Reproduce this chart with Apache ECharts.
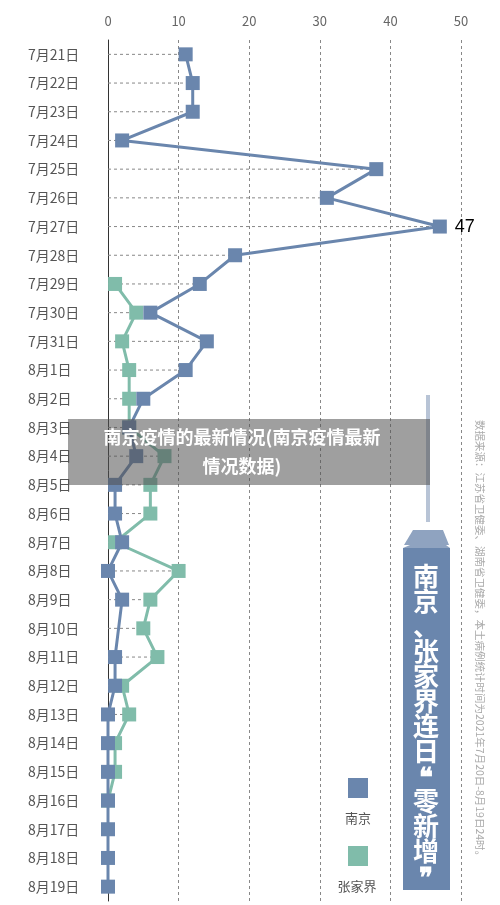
<!DOCTYPE html><html><head><meta charset="utf-8"><script src="https://cdn.jsdelivr.net/npm/echarts@6/dist/echarts.min.js"></script>
<style>body{margin:0;background:#fff}#c{width:500px;height:905px}</style></head><body><div id="c"></div><script>
const categories=['7月21日','7月22日','7月23日','7月24日','7月25日','7月26日','7月27日','7月28日','7月29日','7月30日','7月31日','8月1日','8月2日','8月3日','8月4日','8月5日','8月6日','8月7日','8月8日','8月9日','8月10日','8月11日','8月12日','8月13日','8月14日','8月15日','8月16日','8月17日','8月18日','8月19日'];
const nanjing=[11,12,12,2,38,31,47,18,13,6,14,11,5,3,4,1,1,2,0,2,null,1,1,0,0,0,0,0,0,0];
const zhangjiajie=[null,null,null,null,null,null,null,null,1,4,2,3,3,3,8,6,6,1,10,6,5,7,2,3,1,1,0,null,null,null];
const xTicks=[0,10,20,30,40,50];
const F='"Noto Sans CJK SC",sans-serif';
const guide=categories.map((c,i)=>[i,Math.max(nanjing[i]??0,zhangjiajie[i]??0)]);
const chart=echarts.init(document.getElementById('c'));
const blue='#6a86ad',green='#80bcaa';
chart.setOption({
 animation:false,
 grid:{left:108,right:39,top:40,bottom:4},
 xAxis:{type:'value',position:'top',min:xTicks[0],max:xTicks[xTicks.length-1],interval:10,
  axisLine:{show:false},axisTick:{show:false},
  axisLabel:{color:'#666',fontSize:13,fontFamily:F,margin:12},
  splitLine:{show:true,lineStyle:{type:[3,3],color:'#888',width:1}}},
 yAxis:{type:'category',data:categories,inverse:true,
  axisLine:{show:true,lineStyle:{color:'#333',width:1}},axisTick:{show:false},
  axisLabel:{color:'#555',fontSize:14,fontFamily:F,align:'left',margin:80}},
 series:[
  {type:'custom',data:guide,silent:true,z:1,renderItem:(p,api)=>{
    const a=api.coord([0,api.value(0)]),b=api.coord([api.value(1),api.value(0)]);
    return {type:'line',shape:{x1:a[0],y1:a[1],x2:b[0],y2:b[1]},style:{stroke:'#888',lineWidth:1,lineDash:[3,3]}};
  },encode:{x:1,y:0}},
  {name:'张家界',type:'line',data:zhangjiajie,symbol:'rect',symbolSize:14,lineStyle:{color:green,width:3},itemStyle:{color:green},z:3},
  {name:'南京',type:'line',data:nanjing,connectNulls:true,symbol:'rect',symbolSize:14,lineStyle:{color:blue,width:3},itemStyle:{color:blue},z:4,
   label:{show:true,position:'right',distance:8,color:'#000',fontSize:18,fontFamily:'Liberation Sans',formatter:p=>p.value===47?'47':''}}
 ],
 graphic:[
  {type:'rect',shape:{x:426,y:395,width:4,height:127},style:{fill:'#b8c4d6'},z:10},
  {type:'polygon',shape:{points:[[410,545],[446,545],[450,548],[403,548]]},style:{fill:'#8fa3c0'},z:10},
  {type:'polygon',shape:{points:[[413,530],[443,530],[449,545],[404,545]]},style:{fill:'#8fa3c0'},z:10},
  {type:'rect',shape:{x:403,y:548,width:47,height:342},style:{fill:blue},z:10},
  {type:'text',x:426,y:564,z:11,style:{text:'南\n京\n、\n张\n家\n界\n连\n日\n❝\n零\n新\n增\n❞',fill:'#fff',font:'bold 26px '+F,lineHeight:25,align:'center',verticalAlign:'top'}},
  {type:'text',x:480,y:420,rotation:-Math.PI/2,z:11,style:{text:'数据来源：江苏省卫健委、湖南省卫健委，本土病例统计时间为2021年7月20日-8月19日24时。',fill:'#aaa',font:'10.5px '+F,align:'left',verticalAlign:'middle'}},
  {type:'rect',shape:{x:348,y:778,width:20,height:20},style:{fill:blue},z:10},
  {type:'text',x:358,y:818,style:{text:'南京',fill:'#555',font:'13px '+F,align:'center',verticalAlign:'middle'},z:10},
  {type:'rect',shape:{x:348,y:846,width:20,height:20},style:{fill:green},z:10},
  {type:'text',x:357,y:886,style:{text:'张家界',fill:'#555',font:'13px '+F,align:'center',verticalAlign:'middle'},z:10},
  {type:'rect',shape:{x:68,y:419,width:362,height:66},style:{fill:'rgba(80,80,80,0.55)'},z:20},
  {type:'text',x:242,y:452,z:21,style:{text:'南京疫情的最新情况(南京疫情最新\n情况数据)',fill:'#fff',font:'bold 18px '+F,lineHeight:29,align:'center',verticalAlign:'middle'}}
 ]
});
</script></body></html>
